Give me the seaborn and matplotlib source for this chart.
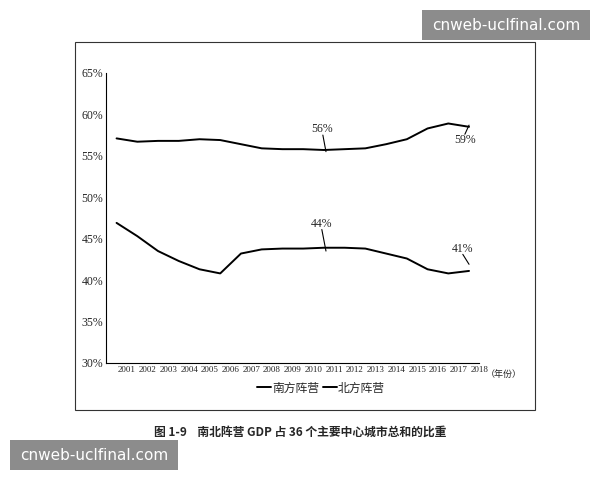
import numpy as np
import pandas as pd
import matplotlib
matplotlib.use("Agg")
import matplotlib.pyplot as plt
import matplotlib.patches as mpatches
import seaborn as sns

years = list(range(2001, 2019))
south = [57.1, 56.7, 56.8, 56.8, 57.0, 56.9, 56.4, 55.9, 55.8, 55.8, 55.7, 55.8, 55.9, 56.4, 57.0, 58.3, 58.9, 58.5]
north = [46.9, 45.3, 43.5, 42.3, 41.3, 40.8, 43.2, 43.7, 43.8, 43.8, 43.9, 43.9, 43.8, 43.2, 42.6, 41.3, 40.8, 41.1]
yticks = [30, 35, 40, 45, 50, 55, 60, 65]

sns.set_theme(style="white")
plt.rcParams["font.family"] = ["Liberation Serif", "Noto Sans CJK SC"]
CJK = ["Noto Sans CJK SC", "DejaVu Sans"]

df = pd.DataFrame({
    "x": np.arange(len(years)) + 0.5,
    "南方阵营": south,
    "北方阵营": north,
}).melt(id_vars="x", var_name="camp", value_name="share")

fig = plt.figure(figsize=(6, 4.8), dpi=100)
fig.patches.append(mpatches.Rectangle((75/600, 1-410/480), 460/600, 368/480,
                                      transform=fig.transFigure, fill=False,
                                      edgecolor="#333333", linewidth=0.8))
ax = fig.add_axes([0.177, 0.244, 0.622, 0.604])
sns.lineplot(data=df, x="x", y="share", hue="camp",
             palette={"南方阵营": "black", "北方阵营": "black"},
             linewidth=1.4, ax=ax, legend=False)

ax.set_xlim(0, len(years))
ax.set_ylim(30, 65)
ax.set_xticks(np.arange(1, len(years) + 1))
ax.set_xticklabels([str(y) for y in years], fontsize=6.5)
ax.set_yticks(yticks)
ax.set_yticklabels([f"{t}%" for t in yticks], fontsize=8.5)
ax.set_xlabel("")
ax.set_ylabel("")
for s in ["top", "right"]:
    ax.spines[s].set_visible(False)
for s in ["left", "bottom"]:
    ax.spines[s].set_color("black")
    ax.spines[s].set_linewidth(0.8)
ax.tick_params(axis="both", length=0, pad=2)
ax.text(len(years) + 0.3, 28.6, "（年份）", fontsize=6.5, family=CJK, va="center")

def note(txt, xy, xytext, start):
    ax.text(xytext[0], xytext[1], txt, fontsize=8.5, ha="center", va="center")
    ax.plot([start[0], xy[0]], [start[1], xy[1]], color="black", lw=0.8)

note("56%", (10.6, 55.5), (10.4, 58.2), (10.45, 57.5))
note("59%", (17.5, 58.7), (17.3, 56.9), (17.3, 57.6))
note("44%", (10.6, 43.5), (10.4, 46.8), (10.4, 46.1))
note("41%", (17.5, 41.9), (17.2, 43.8), (17.2, 43.1))

handles = [plt.Line2D([], [], color="black", lw=1.4) for _ in range(2)]
fig.legend(handles, ["南方阵营", "北方阵营"], loc="center", bbox_to_anchor=(0.535, 1-388/480),
           ncol=2, frameon=False, prop={"family": CJK, "size": 8.5},
           handlelength=1.2, handletextpad=0.1, columnspacing=0.3)

fig.text(0.5, 1-432/480, "图 1-9    南北阵营 GDP 占 36 个主要中心城市总和的比重",
         ha="center", va="center", fontsize=8.5, fontweight="bold", family=CJK)

for (x0, y0) in [(422, 10), (10, 440)]:
    fig.patches.append(mpatches.Rectangle((x0/600, 1-(y0+30)/480), 168/600, 30/480,
                                          transform=fig.transFigure, facecolor="#8c8c8c",
                                          edgecolor="none"))
    fig.text((x0+84)/600, 1-(y0+15)/480, "cnweb-uclfinal.com", ha="center", va="center",
             color="white", fontsize=11, family=["DejaVu Sans"])

fig.savefig("out.png", dpi=100)
